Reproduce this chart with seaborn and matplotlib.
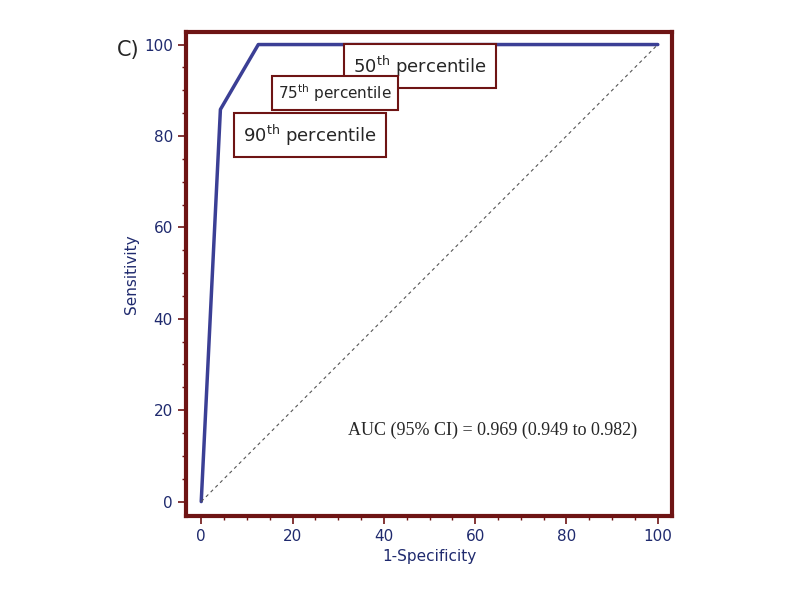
import matplotlib
matplotlib.use("Agg")
import matplotlib.pyplot as plt
from matplotlib.ticker import MultipleLocator
import pandas as pd
import seaborn as sns

fpr = [0, 4.2, 12.5, 100]
sens = [0, 85.8, 100, 100]
ticks = [0, 20, 40, 60, 80, 100]

sns.set_style("white")
plt.rcParams['font.family'] = ['DejaVu Sans']

fig = plt.figure(figsize=(7.99, 5.99), dpi=100)
ax = fig.add_axes([0.233, 0.139, 0.608, 0.808])
frame = '#6e1414'
blue = '#1f2a6e'

df = pd.DataFrame({'x': fpr, 'y': sens})
sns.lineplot(data=df, x='x', y='y', ax=ax, color='#3b3f95', linewidth=2.5, sort=False)
ax.plot([0, 100], [0, 100], linestyle=(0, (3, 3)), color='#555555', linewidth=0.8)

ax.set_xlim(-3.3, 103.1)
ax.set_ylim(-3.1, 102.8)
ax.set_xticks(ticks)
ax.set_yticks(ticks)
ax.xaxis.set_minor_locator(MultipleLocator(5))
ax.yaxis.set_minor_locator(MultipleLocator(5))
ax.tick_params(which='both', direction='out', colors=frame, labelcolor=blue, labelsize=11)
ax.tick_params(which='major', length=6, width=1.2)
ax.tick_params(which='minor', length=3, width=1)
ax.tick_params(bottom=True, left=True, which='both')
for s in ax.spines.values():
    s.set_color(frame)
    s.set_linewidth(3)
ax.set_xlabel('1-Specificity', color=blue, fontsize=11)
ax.set_ylabel('Sensitivity', color=blue, fontsize=11)

box = dict(boxstyle='square,pad=0.5', facecolor='white', edgecolor=frame, linewidth=1.5)
fig.text(420/799, 1 - 66/599, r'50$^{\mathrm{th}}$ percentile', ha='center', va='center', fontsize=13, bbox=box)
fig.text(335/799, 1 - 93/599, r'75$^{\mathrm{th}}$ percentile', ha='center', va='center', fontsize=11,
         bbox=dict(boxstyle='square,pad=0.4', facecolor='white', edgecolor=frame, linewidth=1.5))
fig.text(310/799, 1 - 135/599, r'90$^{\mathrm{th}}$ percentile', ha='center', va='center', fontsize=13, bbox=box)
fig.text(117/799, 1 - 50/599, 'C)', ha='left', va='center', fontsize=15)
fig.text(348/799, 1 - 430/599, 'AUC (95% CI) = 0.969 (0.949 to 0.982)', ha='left', va='center',
         fontsize=13, family='Liberation Serif')

fig.savefig('out.png', dpi=100)
